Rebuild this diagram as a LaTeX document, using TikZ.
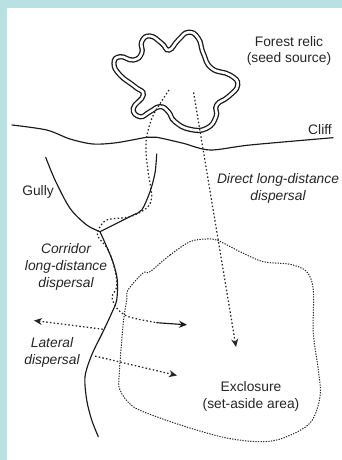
\documentclass[tikz,border=0pt]{standalone}
\usepackage{fontspec}
\setmainfont{Liberation Sans}
\usetikzlibrary{arrows.meta}
\definecolor{bandblue}{HTML}{B9E0E3}
\def\blobpts{(141.7,41.7)(150,36)(161.7,43.3)(169,50)(178.3,40)(188.3,32.3)(198.3,38.3)(203.3,53.3)(211.7,68.3)(230,75)(237.7,85)(228.3,96.7)(216.7,105)(216,116.7)(206.7,128.3)(190,129.3)(175,121.7)(168.3,111.7)(160,106.7)(150,111.7)(140,116.7)(133.3,108.3)(143.3,95)(135,86.7)(120,75)(114,63.3)(120,56.7)(133.3,60)(141.7,53.3)}
\tikzset{
 lab/.style={align=center,font=\fontsize{13.8}{16.5}\selectfont,inner sep=0pt,text=black!85},
 ilab/.style={lab,font=\fontsize{13.8}{17}\selectfont\itshape},
 solidline/.style={line width=1.15pt,black!90,line cap=round},
 dots/.style={line width=1.25pt,black!85,dash pattern=on 1.5pt off 2.2pt},
 thin dots/.style={line width=1pt,black!85,dash pattern=on 1.3pt off 1.3pt},
}
\begin{document}
\begin{tikzpicture}[x=1pt,y=-1pt]
\useasboundingbox (0,0) rectangle (342,460);
\fill[white] (0,0) rectangle (342,460);
\fill[bandblue] (0,0) rectangle (342,8);
\fill[bandblue] (0,0) rectangle (7,460);
% forest relic
\draw[line width=5.2pt,black!90] plot[smooth cycle,tension=0.85] coordinates {\blobpts};
\draw[line width=2.6pt,white] plot[smooth cycle,tension=0.85] coordinates {\blobpts};
% cliff
\draw[solidline] plot[smooth,tension=0.5] coordinates {(12,125)(46.7,130)(70,139)(93,144)(116.7,142.7)(146.7,137.3)(156.7,137.3)(183.3,143.3)(210,150)(250,145)(333,137.7)};
% gully
\draw[solidline] plot[smooth,tension=0.5] coordinates {(45.7,157.3)(55,180)(70,208.3)(86.7,225)(100,231.7)};
\draw[solidline] plot[smooth,tension=0.5] coordinates {(156.7,154)(155,173)(150,191.7)(141.7,210)(131.7,215.7)(100,231.7)};
\draw[solidline] plot[smooth,tension=0.5] coordinates {(100,231.7)(106.7,246.7)(113.3,263)(117.3,280)(116.7,300)(111.7,313)(103,331.7)(91.7,355)(85,376.7)(86.7,400)(91.7,420)(98.3,436.7)};
% exclosure
\draw[thin dots] plot[smooth cycle,tension=0.55] coordinates {(150,271.7)(170,255)(190,241.7)(206.7,239)(218.3,240.7)(240,251.7)(263.3,261.7)(290,264.3)(306.7,271.7)(313.3,290)(313.3,333)(318.3,370)(320,396.7)(310,423)(283.3,438)(260,441.7)(226.7,438)(190,428)(160,418)(133.3,406.7)(120,390)(119.3,373)(123.3,323)(126.7,300)(128,290)(143,273)};
% corridor dispersal
\coordinate (corridorEnd) at (156.7,322.7);
\coordinate (corridorTip) at (187,324.8);
\draw[dots] plot[smooth,tension=0.5] coordinates {(169,90)(153.3,115)(146.7,136.7)(146,153)(148.3,173)(151.7,196.7)(146.7,208)(130,216.7)(106.7,220)(98.3,230)(98,236.7)(108.3,250)(115,270)(116.7,286.7)(112,297)(116.7,308)(128.3,316.7)(156.7,322.7)};
\draw[solidline,-{Stealth[length=8pt,width=7pt]}] (corridorEnd) -- (corridorTip);
% direct dispersal
\coordinate (directStart) at (193.3,90.7);
\coordinate (directTip) at (236,347);
\draw[dots,{Stealth[length=8pt,width=7pt]}-{}] (directTip) -- (directStart);
% lateral dispersal
\coordinate (latLa) at (103.3,329.3);
\coordinate (latLb) at (34,320.5);
\coordinate (latRa) at (93.3,355.7);
\coordinate (latRb) at (177,375.5);
\draw[dots,{Stealth[length=8pt,width=7pt]}-{}] (latLb) -- (latLa);
\draw[dots,{Stealth[length=8pt,width=7pt]}-{}] (latRb) -- (latRa);
% labels
\node[lab] (forest) at (289,51) {Forest relic\\(seed source)};
\node[lab] (cliff) at (320,130) {Cliff};
\node[lab] (gully) at (38,192) {Gully};
\node[ilab] (direct) at (278,188) {Direct long-distance\\dispersal};
\node[ilab] (corridor) at (66,266.5) {Corridor\\long-distance\\dispersal};
\node[ilab] (lateral) at (52,352.5) {Lateral\\dispersal};
\node[lab] (exclosure) at (251,396.5) {Exclosure\\(set-aside area)};
\end{tikzpicture}
\end{document}
